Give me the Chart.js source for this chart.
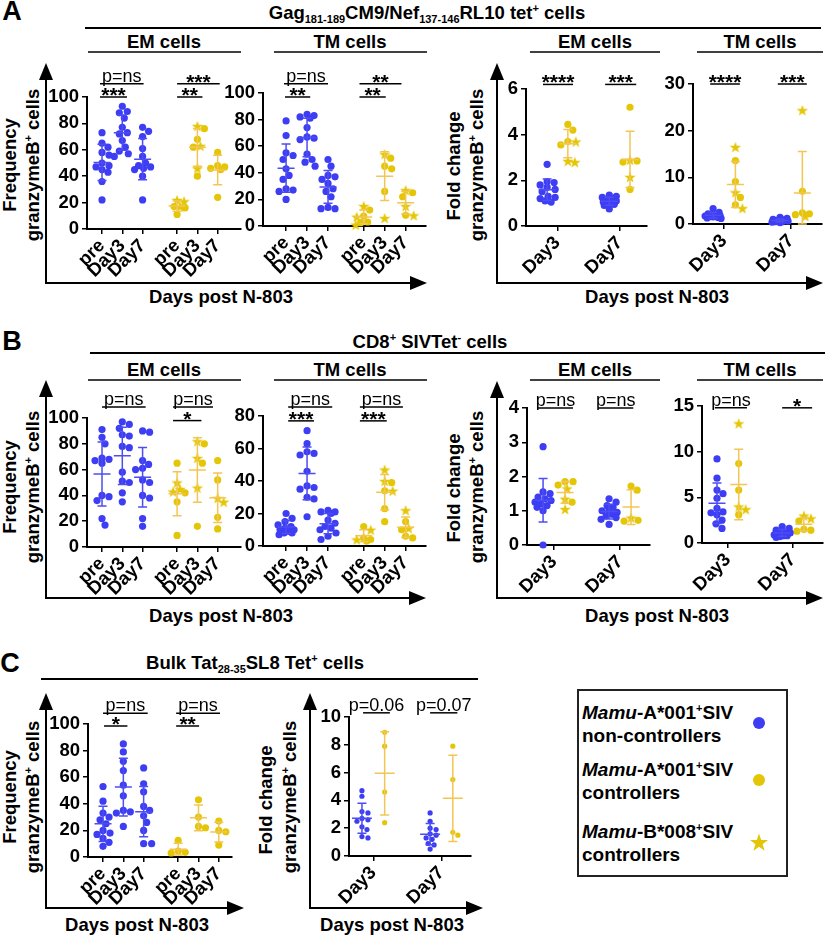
<!DOCTYPE html>
<html>
<head>
<meta charset="utf-8">
<title>granzymeB+ cells after N-803</title>
<script src="https://cdn.jsdelivr.net/npm/chart.js@4.4.1/dist/chart.umd.min.js"></script>
<style>
  body { margin: 0; background: #fff; }
  #page { position: relative; width: 825px; height: 935px; overflow: hidden;
          font-family: "Liberation Sans", Arial, Helvetica, sans-serif; color: #000; }
  #page canvas { position: absolute; }
  #lines { position: absolute; left: 0; top: 0; }
  .t { position: absolute; white-space: nowrap; font-weight: bold; font-size: 18.5px;
       line-height: 1; transform: translate(-50%, -50%); }
  .rot { transform: translate(-50%, -50%) rotate(-90deg); }
  .big { font-size: 27px; }
  sub, sup { font-size: 11px; line-height: 0; }
  #legend { position: absolute; left: 577px; top: 689px; width: 207px; height: 184px;
            border: 2px solid #222; }
  .leg { position: absolute; left: 3px; font-weight: bold; font-size: 19px; line-height: 23px; white-space: nowrap; }
</style>
</head>
<body>
<div id="page">
  <svg id="lines" width="825" height="935"></svg>

  <div class="t big" style="left:12px;top:11px">A</div>
  <div class="t" style="left:427px;top:13px">Gag<sub>181-189</sub>CM9/Nef<sub>137-146</sub>RL10 tet<sup>+</sup> cells</div>
  <div class="t" style="left:164px;top:42px">EM cells</div>
  <div class="t" style="left:350px;top:42px">TM cells</div>
  <div class="t" style="left:595px;top:42px">EM cells</div>
  <div class="t" style="left:760px;top:42px">TM cells</div>
  <div class="t rot" style="left:10px;top:165px">Frequency</div>
  <div class="t rot" style="left:33px;top:165px">granzymeB<sup>+</sup> cells</div>
  <div class="t rot" style="left:454px;top:166px">Fold change</div>
  <div class="t rot" style="left:477px;top:165px">granzymeB<sup>+</sup> cells</div>
  <div class="t" style="left:221px;top:297px">Days post N-803</div>
  <div class="t" style="left:657px;top:297px">Days post N-803</div>

  <div class="t big" style="left:12px;top:341px">B</div>
  <div class="t" style="left:430px;top:342px">CD8<sup>+</sup> SIVTet<sup>-</sup> cells</div>
  <div class="t" style="left:164px;top:370px">EM cells</div>
  <div class="t" style="left:350px;top:370px">TM cells</div>
  <div class="t" style="left:595px;top:370px">EM cells</div>
  <div class="t" style="left:760px;top:370px">TM cells</div>
  <div class="t rot" style="left:10px;top:487px">Frequency</div>
  <div class="t rot" style="left:33px;top:487px">granzymeB<sup>+</sup> cells</div>
  <div class="t rot" style="left:454px;top:488px">Fold change</div>
  <div class="t rot" style="left:477px;top:487px">granzymeB<sup>+</sup> cells</div>
  <div class="t" style="left:221px;top:616px">Days post N-803</div>
  <div class="t" style="left:657px;top:616px">Days post N-803</div>

  <div class="t big" style="left:10px;top:663px">C</div>
  <div class="t" style="left:255px;top:663px">Bulk Tat<sub>28-35</sub>SL8 Tet<sup>+</sup> cells</div>
  <div class="t rot" style="left:10px;top:797px">Frequency</div>
  <div class="t rot" style="left:33px;top:797px">granzymeB<sup>+</sup> cells</div>
  <div class="t rot" style="left:266px;top:800px">Fold change</div>
  <div class="t rot" style="left:290px;top:797px">granzymeB<sup>+</sup> cells</div>
  <div class="t" style="left:137px;top:925px">Days post N-803</div>
  <div class="t" style="left:392px;top:925px">Days post N-803</div>

  <div id="legend">
    <div class="leg" style="top:10px"><i>Mamu</i>-A*001<sup>+</sup>SIV<br>non-controllers</div>
    <div class="leg" style="top:67px"><i>Mamu</i>-A*001<sup>+</sup>SIV<br>controllers</div>
    <div class="leg" style="top:129px"><i>Mamu</i>-B*008<sup>+</sup>SIV<br>controllers</div>
  </div>
</div>

<script>
// tick labels
const freqLabels = ['pre', 'Day3', 'Day7', 'pre', 'Day3', 'Day7'];
const foldLabels = ['Day3', 'Day7'];

// Non = Mamu-A*001+ non-controllers (blue), Ctl = Mamu-A*001+ controllers (gold dots),
// B08 = Mamu-B*008+ controllers (gold stars). Frequencies: [pre, Day3, Day7], fold: [Day3, Day7]

// A: Gag181-189CM9/Nef137-146RL10 tet+ cells
const aEmNon = [[73, 65, 62, 58, 56, 50, 48, 47, 45, 43, 36, 22],
                [93, 89, 88, 84, 77, 73, 72, 67, 62, 59, 57, 55],
                [77, 74, 70, 61, 55, 50, 48, 47, 46, 45, 40, 22]];
const aEmCtl = [[17, 16, 11], [76, 68, 62, 40], [58, 48, 47, 46, 45, 24]];
const aEmB08 = [[22, 21, 17], [78, 63, 46], []];

const aTmNon = [[79, 68, 55, 53, 50, 43, 38, 35, 28, 27, 26, 20],
                [84, 83, 82, 81, 74, 67, 66, 65, 54, 50, 48, 45],
                [50, 45, 38, 37, 35, 32, 28, 26, 22, 14, 13, 13]];
const aTmCtl = [[12, 7.5, 3, 2.5], [51, 45, 43, 26], [25, 22, 8]];
const aTmB08 = [[15, 7, 1], [54, 6], [27, 15, 8]];

const aEmFoldNon = [[2.7, 1.95, 1.9, 1.8, 1.7, 1.6, 1.5, 1.3, 1.25, 1.2, 1.1, 1.05],
                    [1.35, 1.3, 1.25, 1.2, 1.15, 1.1, 1.05, 1.0, 1.0, 0.95, 0.9, 0.75]];
const aEmFoldCtl = [[4.45, 4.2, 3.7, 3.55], [5.2, 2.85, 2.8, 1.6]];
const aEmFoldB08 = [[3.7, 2.85, 2.8], [2.9, 2.15]];

const aTmFoldNon = [[3.3, 2.5, 2.2, 2.0, 1.9, 1.8, 1.7, 1.6, 1.5, 1.4, 1.3, 1.2],
                    [1.4, 1.2, 1.0, 0.9, 0.8, 0.8, 0.7, 0.6, 0.5, 0.5, 0.4, 0.3]];
const aTmFoldCtl = [[13.6, 9.1, 5.7, 4.1], [7.0, 2.4, 2.2, 2.0]];
const aTmFoldB08 = [[16.5, 6.8, 3.4], [24.4, 1.7]];

// B: CD8+ SIVTet- cells
const bEmNon = [[91, 85, 80, 69, 68, 67, 65, 40, 39, 36, 22, 17],
                [97, 95, 92, 87, 86, 78, 77, 58, 51, 50, 42, 35],
                [90, 89, 67, 64, 61, 60, 52, 50, 40, 38, 22, 16]];
const bEmCtl = [[65, 42, 35, 9], [80, 65, 16], [67, 52, 23, 14]];
const bEmB08 = [[50, 45, 43], [82, 69, 46], [38, 35]];

const bTmNon = [[20, 17, 15, 13, 12, 11, 10, 10, 9, 8, 8, 7],
                [71, 63, 58, 57, 56, 46, 37, 36, 35, 30, 29, 18],
                [22, 21, 21, 20, 16, 14, 12, 11, 10, 8, 6, 4]];
const bTmCtl = [[12, 5, 4, 3], [39, 34, 23, 15], [15, 10, 6, 5]];
const bTmB08 = [[10, 4], [47, 40, 34], [22, 11]];

const bEmFoldNon = [[2.87, 1.55, 1.5, 1.4, 1.35, 1.3, 1.25, 1.2, 1.15, 1.1, 1.0, 0.0],
                    [1.35, 1.25, 1.15, 1.1, 1.0, 1.0, 0.95, 0.9, 0.85, 0.8, 0.75, 0.6]];
const bEmFoldCtl = [[1.85, 1.85, 1.75, 1.25], [1.72, 1.6, 0.72, 0.7]];
const bEmFoldB08 = [[1.65, 1.35, 1.05], [0.8]];

const bTmFoldNon = [[9.2, 7.1, 5.8, 5.4, 4.9, 3.8, 3.4, 3.3, 3.1, 2.5, 2.1, 1.6],
                    [1.8, 1.6, 1.4, 1.3, 1.2, 1.1, 1.0, 0.9, 0.8, 0.8, 0.7, 0.6]];
const bTmFoldCtl = [[8.7, 5.8, 3.1], [2.4, 1.5, 1.4, 1.3]];
const bTmFoldB08 = [[13.1, 4.0, 3.7], [3.0, 2.7]];

// C: bulk Tat28-35SL8 Tet+ cells
const cNon = [[53, 42, 33, 30, 28, 25, 20, 18, 17, 14, 11, 8],
              [85, 79, 72, 65, 54, 46, 35, 34, 33, 23],
              [67, 55, 49, 38, 35, 31, 26, 20, 10, 10]];
const cCtl = [[12.5, 4.5, 3.5, 3], [43, 30, 23, 22], [27, 20, 19, 9]];

const cFoldNon = [[4.7, 4.3, 3.2, 3.1, 2.7, 2.6, 2.5, 2.1, 1.9, 1.4, 1.3],
                  [3.1, 2.5, 2.0, 1.9, 1.6, 1.5, 1.3, 1.2, 0.9, 0.8, 0.5]];
const cFoldCtl = [[8.9, 7.9, 4.6, 2.4], [7.9, 5.5, 1.7, 1.5]];

// ---------------------------------------------------------------
const BLUE = '#3d3df4', GOLD = '#e4c606';
const BLUE_BAR = '#4d4df2', GOLD_BAR = '#f3c555';
const FONT = '"Liberation Sans", Arial, sans-serif';
Chart.defaults.font.family = FONT;
Chart.defaults.color = '#000';

const FREQ = { bluePos: [0, 1, 2], goldPos: [3.7, 4.7, 5.7], ticks: [0, 1, 2, 3.7, 4.7, 5.7], labels: freqLabels };
const FOLD = { bluePos: [0, 3], goldPos: [1, 4], ticks: [0.5, 3.5], labels: foldLabels };

// plot boxes in page pixels, x range in axis units, significance bars [x1, x2, y, label]
const plots = [
  { ...FREQ, left: 87, right: 241, top: 97, bottom: 229, xmin: -0.74, xmax: 6.85, ymax: 100, step: 20,
    non: aEmNon, ctl: aEmCtl, b08: aEmB08,
    sig: [[-0.1, 2.05, 110, 'p=ns'], [-0.1, 1.23, 100, '***'], [3.7, 5.8, 110, '***'], [3.7, 4.95, 100, '**']] },
  { ...FREQ, left: 263, right: 426, top: 93, bottom: 226, xmin: -1.1, xmax: 6.67, ymax: 100, step: 20,
    non: aTmNon, ctl: aTmCtl, b08: aTmB08,
    sig: [[-0.1, 2.0, 107, 'p=ns'], [-0.05, 1.15, 97, '**'], [3.5, 5.5, 107, '**'], [3.5, 4.75, 97, '**']] },
  { ...FOLD, left: 526, right: 647, top: 89, bottom: 226, xmin: -1.02, xmax: 4.82, ymax: 6, step: 2,
    non: aEmFoldNon, ctl: aEmFoldCtl, b08: aEmFoldB08,
    sig: [[-0.2, 1.25, 6.2, '****'], [2.8, 4.3, 6.2, '***']] },
  { ...FOLD, left: 693, right: 822, top: 84, bottom: 224, xmin: -0.9, xmax: 4.88, ymax: 30, step: 10,
    non: aTmFoldNon, ctl: aTmFoldCtl, b08: aTmFoldB08,
    sig: [[-0.13, 1.2, 30, '****'], [2.9, 4.2, 30, '***']] },
  { ...FREQ, left: 87, right: 241, top: 418, bottom: 547, xmin: -0.74, xmax: 6.85, ymax: 100, step: 20,
    non: bEmNon, ctl: bEmCtl, b08: bEmB08,
    sig: [[0, 2.15, 108.5, 'p=ns'], [3.5, 5.47, 108.5, 'p=ns'], [3.5, 4.9, 98, '*']] },
  { ...FREQ, left: 263, right: 426, top: 416, bottom: 546, xmin: -1.1, xmax: 6.67, ymax: 80, step: 20,
    non: bTmNon, ctl: bTmCtl, b08: bTmB08,
    sig: [[0.1, 2.2, 85.5, 'p=ns'], [0.1, 1.33, 77, '***'], [3.52, 5.57, 85.5, 'p=ns'], [3.52, 4.8, 77, '***']] },
  { ...FOLD, left: 527, right: 650, top: 408, bottom: 545, xmin: -0.73, xmax: 4.86, ymax: 4, step: 1,
    non: bEmFoldNon, ctl: bEmFoldCtl, b08: bEmFoldB08,
    sig: [[-0.23, 1.36, 4.0, 'p=ns'], [2.5, 4.1, 4.0, 'p=ns']] },
  { ...FOLD, left: 702, right: 823, top: 406, bottom: 543, xmin: -0.69, xmax: 4.88, ymax: 15, step: 5,
    non: bTmFoldNon, ctl: bTmFoldCtl, b08: bTmFoldB08,
    sig: [[-0.1, 1.38, 14.8, 'p=ns'], [3.0, 4.38, 14.8, '*']] },
  { ...FREQ, left: 88, right: 232, top: 724, bottom: 857, xmin: -0.74, xmax: 6.35, ymax: 100, step: 20,
    non: cNon, ctl: cCtl, b08: [],
    sig: [[0, 2.2, 108, 'p=ns'], [0.05, 1.2, 98.5, '*'], [3.6, 5.76, 108, 'p=ns'], [3.6, 4.73, 98.5, '**']] },
  { ...FOLD, left: 349, right: 471, top: 717, bottom: 856, xmin: -0.57, xmax: 4.8, ymax: 10, step: 2, r: 2.6,
    non: cFoldNon, ctl: cFoldCtl, b08: [],
    sig: [[0.05, 1.23, 10.3, 'p=0.06'], [3.0, 4.2, 10.3, 'p=0.07']] }
];

function starImage(size, color) {
  const c = document.createElement('canvas');
  c.width = c.height = size;
  const g = c.getContext('2d');
  g.fillStyle = color;
  g.beginPath();
  for (let i = 0; i < 10; i++) {
    const r = i % 2 ? size * 0.2 : size * 0.5;
    const a = -Math.PI / 2 + i * Math.PI / 5;
    g.lineTo(size / 2 + r * Math.cos(a), size / 2 + size * 0.06 + r * Math.sin(a));
  }
  g.closePath();
  g.fill();
  return c;
}

// spread points sideways (within maxW px) so they overlap as little as possible
function spread(vals, pxX, pxY, diam, maxW) {
  const out = vals.map(() => 0);
  const placed = [];
  const cands = [0];
  for (let d = 1; d <= maxW; d++) cands.push(d, -d);
  const order = vals.map((v, i) => i).sort((a, b) => vals[b] - vals[a]);
  order.forEach(i => {
    const y = vals[i] * pxY;
    let best = 0, bestD = -1;
    for (const dx of cands) {
      const dmin = placed.reduce((m, p) => Math.min(m, Math.hypot(p.x - dx, p.y - y)), Infinity);
      if (dmin >= diam * 0.9) { best = dx; break; }
      if (dmin > bestD + 0.5) { bestD = dmin; best = dx; }
    }
    placed.push({ x: best, y: y });
    out[i] = best / pxX;
  });
  return out;
}

const meanSd = {
  id: 'meanSd',
  afterDatasetsDraw(chart, args, opts) {
    const { ctx, scales: { x, y } } = chart;
    ctx.save();
    ctx.lineWidth = 1.5;
    opts.groups.forEach(g => {
      const n = g.values.length;
      if (n < 2) return;
      const m = g.values.reduce((a, b) => a + b, 0) / n;
      const sd = Math.sqrt(g.values.reduce((a, b) => a + (b - m) * (b - m), 0) / (n - 1));
      const px = x.getPixelForValue(g.x);
      const pm = y.getPixelForValue(m);
      const pt = y.getPixelForValue(m + sd);
      const pb = y.getPixelForValue(Math.max(m - sd, 0));
      ctx.strokeStyle = g.color;
      ctx.beginPath();
      ctx.moveTo(px - opts.meanW, pm); ctx.lineTo(px + opts.meanW, pm);
      ctx.moveTo(px, pt); ctx.lineTo(px, pb);
      ctx.moveTo(px - opts.capW, pt); ctx.lineTo(px + opts.capW, pt);
      ctx.moveTo(px - opts.capW, pb); ctx.lineTo(px + opts.capW, pb);
      ctx.stroke();
    });
    ctx.restore();
  }
};

const sigBars = {
  id: 'sigBars',
  afterDraw(chart, args, opts) {
    const { ctx, scales: { x, y } } = chart;
    ctx.save();
    ctx.strokeStyle = '#000';
    ctx.fillStyle = '#000';
    ctx.lineWidth = 1.5;
    ctx.textAlign = 'center';
    opts.bars.forEach(([a, b, v, label]) => {
      const x1 = x.getPixelForValue(a), x2 = x.getPixelForValue(b), py = y.getPixelForValue(v);
      ctx.beginPath(); ctx.moveTo(x1, py); ctx.lineTo(x2, py); ctx.stroke();
      const stars = /^\*+$/.test(label);
      ctx.font = stars ? 'bold 21px ' + FONT : '18px ' + FONT;
      ctx.fillText(label, (x1 + x2) / 2, stars ? py + 5 : py - 2);
    });
    ctx.restore();
  }
};

const page = document.getElementById('page');
const PAD_TOP = 52, Y_W = 48, X_H = 60, PAD_R = 8;

plots.forEach(spec => {
  const r = spec.r || 3.6;
  const pxX = (spec.right - spec.left) / (spec.xmax - spec.xmin);
  const pxY = (spec.bottom - spec.top) / spec.ymax;
  const diam = r * 2 + 0.6;
  const maxW = r > 3 ? 8 : 7;
  const blue = [], gold = [], star = [], groups = [];

  spec.non.forEach((vals, i) => {
    const off = spread(vals, pxX, pxY, diam, maxW);
    vals.forEach((v, k) => blue.push({ x: spec.bluePos[i] + off[k], y: v }));
    groups.push({ x: spec.bluePos[i], values: vals, color: BLUE_BAR });
  });
  spec.ctl.forEach((vals, i) => {
    const all = vals.concat(spec.b08[i] || []);
    const off = spread(all, pxX, pxY, diam, maxW);
    all.forEach((v, k) => (k < vals.length ? gold : star).push({ x: spec.goldPos[i] + off[k], y: v }));
    groups.push({ x: spec.goldPos[i], values: all, color: GOLD_BAR });
  });

  const w = spec.right - spec.left + Y_W + PAD_R;
  const h = spec.bottom - spec.top + PAD_TOP + X_H;
  const cv = document.createElement('canvas');
  cv.width = w; cv.height = h;
  cv.style.left = (spec.left - Y_W) + 'px';
  cv.style.top = (spec.top - PAD_TOP) + 'px';
  cv.style.width = w + 'px'; cv.style.height = h + 'px';
  page.appendChild(cv);

  const tickFont = { size: 18.5, weight: 'bold' };
  new Chart(cv, {
    type: 'scatter',
    data: {
      datasets: [
        { label: 'non-controllers', data: blue, backgroundColor: BLUE, pointRadius: r, borderWidth: 0, clip: false },
        { label: 'A*001 controllers', data: gold, backgroundColor: GOLD, pointRadius: r, borderWidth: 0, clip: false },
        { label: 'B*008 controllers', data: star, pointStyle: starImage(Math.round(r * 3.2), GOLD), pointRadius: r, clip: false }
      ]
    },
    options: {
      responsive: false,
      animation: false,
      layout: { padding: { top: PAD_TOP, right: PAD_R, left: 0, bottom: 0 } },
      plugins: {
        legend: { display: false },
        tooltip: { enabled: false },
        meanSd: { groups: groups, meanW: r > 3 ? 8.5 : 10, capW: 4.5 },
        sigBars: { bars: spec.sig }
      },
      scales: {
        x: {
          type: 'linear', min: spec.xmin, max: spec.xmax,
          afterBuildTicks: s => { s.ticks = spec.ticks.map(v => ({ value: v })); },
          afterFit: s => { s.height = X_H; s.paddingLeft = 0; s.paddingRight = 0; },
          ticks: { callback: (v, i) => spec.labels[i], minRotation: 45, maxRotation: 45, autoSkip: false,
                   font: tickFont, color: '#000', padding: 1 },
          grid: { drawOnChartArea: false, drawTicks: true, tickLength: 5, color: '#000', lineWidth: 1.5 },
          border: { color: '#000', width: 2 }
        },
        y: {
          min: 0, max: spec.ymax,
          afterFit: s => { s.width = Y_W; s.paddingTop = 0; s.paddingBottom = 0; },
          ticks: { stepSize: spec.step, font: tickFont, color: '#000', padding: 3 },
          grid: { drawOnChartArea: false, drawTicks: true, tickLength: 5, color: '#000', lineWidth: 1.5 },
          border: { color: '#000', width: 2 }
        }
      }
    },
    plugins: [meanSd, sigBars]
  });
});

// frame lines, big axis arrows and legend symbols
const svg = document.getElementById('lines');
const NS = 'http://www.w3.org/2000/svg';
function el(tag, attrs) {
  const e = document.createElementNS(NS, tag);
  Object.keys(attrs).forEach(k => e.setAttribute(k, attrs[k]));
  svg.appendChild(e);
}
function seg(x1, y1, x2, y2, w) {
  el('line', { x1, y1, x2, y2, stroke: '#000', 'stroke-width': w });
}
function axesArrow(cx, cy, topY, rightX) {
  seg(cx, cy + 1, cx, topY + 14, 2);
  seg(cx - 1, cy, rightX - 14, cy, 2);
  el('polygon', { points: `${cx},${topY} ${cx - 7},${topY + 17} ${cx + 7},${topY + 17}`, fill: '#000' });
  el('polygon', { points: `${rightX},${cy} ${rightX - 17},${cy - 7} ${rightX - 17},${cy + 7}`, fill: '#000' });
}

seg(85, 28, 821, 28, 2);
seg(90, 353, 825, 353, 2);
seg(41, 679, 478, 679, 2);
[52, 380].forEach(y => {
  seg(88, y, 241, y, 1.5); seg(274, y, 427, y, 1.5);
  seg(530, y, 660, y, 1.5); seg(697, y, 823, y, 1.5);
});
axesArrow(46, 283, 63, 427);
axesArrow(497, 283, 63, 823);
axesArrow(46, 598, 380, 426);
axesArrow(497, 598, 381, 823);
axesArrow(46, 908, 693, 244);
axesArrow(310, 908, 693, 483);

el('circle', { cx: 759, cy: 723, r: 6, fill: BLUE });
el('circle', { cx: 759, cy: 780, r: 6, fill: GOLD });
let pts = [];
for (let i = 0; i < 10; i++) {
  const rr = i % 2 ? 3.8 : 9.5, a = -Math.PI / 2 + i * Math.PI / 5;
  pts.push((759 + rr * Math.cos(a)).toFixed(1) + ',' + (843 + rr * Math.sin(a)).toFixed(1));
}
el('polygon', { points: pts.join(' '), fill: GOLD });
</script>
</body>
</html>
